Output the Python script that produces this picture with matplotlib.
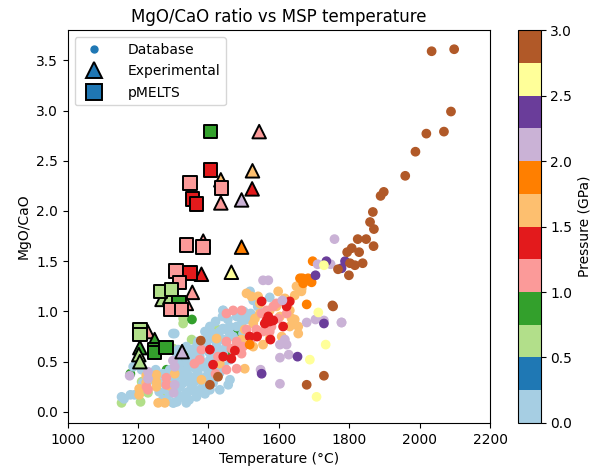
import numpy as np
import matplotlib
matplotlib.use('Agg')
import matplotlib.pyplot as plt
from matplotlib.lines import Line2D

# database points, grouped by pressure (GPa): (temperature C, MgO/CaO)
db_p01 = [(1153, 0.15), (1178, 0.17), (1160, 0.13)]
db_p06 = [(1153, 0.09), (1207, 0.10), (1228, 0.19), (1276, 0.16), (1352, 0.72),
          (1328, 0.93), (1328, 0.88), (1427, 0.82), (1300, 0.63), (1210, 0.30)]
db_p09 = [(1178, 0.38), (1281, 0.42), (1353, 0.92), (1480, 0.80), (1347, 0.55),
          (1328, 0.48), (1328, 0.58), (1460, 0.60)]
db_p00 = [(1518, 1.20), (1574, 1.14), (1527, 1.11), (1442, 1.01), (1494, 0.88),
          (1480, 0.85), (1508, 0.92), (1451, 0.82), (1432, 0.80), (1413, 0.77),
          (1404, 0.73), (1394, 0.68), (1385, 0.65), (1371, 0.62), (1361, 0.57),
          (1347, 0.52), (1337, 0.48), (1323, 0.42), (1314, 0.37), (1304, 0.32),
          (1299, 0.27), (1299, 0.09), (1318, 0.15), (1342, 0.20), (1366, 0.17),
          (1385, 0.25), (1413, 0.29), (1432, 0.39), (1461, 0.52), (1470, 0.62),
          (1442, 0.58), (1423, 0.52), (1404, 0.52), (1385, 0.45), (1366, 0.42),
          (1347, 0.35), (1328, 0.29), (1394, 0.35), (1413, 0.42), (1456, 0.27),
          (1461, 0.32), (1432, 0.22), (1356, 0.22), (1375, 0.32), (1337, 0.65),
          (1314, 0.62), (1299, 0.78), (1423, 0.68), (1442, 0.72), (1470, 0.75),
          (1498, 0.78), (1404, 0.85), (1233, 0.38), (1252, 0.35), (1271, 0.38),
          (1290, 0.42), (1318, 0.48), (1337, 0.52), (1356, 0.58), (1366, 0.65),
          (1394, 0.72), (1413, 0.78), (1441, 0.83), (1460, 0.85), (1299, 0.32),
          (1328, 0.29), (1356, 0.22), (1366, 0.15), (1318, 0.15), (1280, 0.22),
          (1261, 0.29), (1214, 0.29), (1190, 0.17), (1399, 0.38), (1422, 0.45),
          (1347, 0.35), (1385, 0.29), (1337, 0.09), (1404, 0.22), (1186, 0.45),
          (1210, 0.42), (1304, 0.78), (1441, 1.01), (1301, 0.09), (1323, 0.15),
          (1280, 0.12), (1345, 0.12), (1390, 0.18), (1420, 0.60), (1480, 0.95),
          (1500, 1.00), (1455, 0.92), (1375, 0.55), (1356, 0.45), (1310, 0.55),
          (1240, 0.32), (1260, 0.20), (1290, 0.18), (1310, 0.22), (1330, 0.35),
          (1350, 0.28), (1370, 0.38), (1390, 0.45), (1410, 0.55), (1430, 0.62),
          (1450, 0.65), (1400, 0.60), (1380, 0.50), (1360, 0.30), (1340, 0.42),
          (1320, 0.25), (1300, 0.40), (1280, 0.30), (1270, 0.12), (1350, 0.62),
          (1420, 0.90), (1440, 0.95), (1460, 0.78), (1480, 0.68), (1500, 0.92),
          (1520, 0.98), (1540, 1.05), (1390, 0.80), (1370, 0.70), (1250, 0.42),
          (1335, 0.18), (1375, 0.22), (1415, 0.35), (1445, 0.45), (1310, 0.10)]
db_p11 = [(1593, 1.08), (1612, 1.10), (1584, 1.05), (1565, 1.01), (1551, 0.98),
          (1598, 0.93), (1579, 0.85), (1555, 0.80), (1536, 0.82), (1508, 0.82),
          (1522, 0.73), (1480, 0.70), (1465, 0.63), (1451, 0.70), (1427, 0.55),
          (1480, 0.43), (1451, 0.42), (1498, 0.65), (1622, 0.98), (1494, 0.58),
          (1380, 0.62), (1375, 0.52), (1451, 0.98), (1470, 1.01), (1494, 1.01),
          (1536, 0.77), (1574, 0.80), (1280, 0.34), (1280, 0.27), (1228, 0.22),
          (1224, 0.25), (1420, 0.38), (1360, 0.48)]
db_p14 = [(1565, 0.91), (1574, 0.90), (1584, 0.91), (1560, 0.88), (1551, 1.10),
          (1622, 1.05), (1631, 1.10), (1517, 0.75), (1538, 0.75), (1413, 0.47),
          (1442, 0.55), (1475, 0.61), (1576, 0.72), (1612, 0.85), (1465, 0.53),
          (1404, 0.62), (1570, 0.95)]
db_p16 = [(1508, 1.18), (1522, 1.15), (1541, 1.15), (1546, 1.08), (1574, 1.01),
          (1598, 1.20), (1617, 1.13), (1650, 1.25), (1664, 1.20), (1645, 1.16),
          (1631, 1.01), (1603, 0.95), (1636, 0.93), (1645, 0.92), (1655, 0.85),
          (1655, 0.78), (1608, 0.75), (1574, 0.73), (1527, 0.88), (1503, 0.82),
          (1494, 0.72), (1527, 0.65), (1503, 0.43), (1423, 0.73), (1432, 0.48),
          (1380, 0.32), (1674, 1.30), (1593, 1.05), (1546, 0.98), (1532, 0.93),
          (1631, 0.85), (1555, 0.67), (1223, 0.36), (1223, 0.29), (1223, 0.24),
          (1252, 0.37), (1252, 0.30), (1252, 0.25), (1257, 0.09), (1276, 0.09),
          (1304, 0.38), (1290, 0.26), (1203, 0.23), (1203, 0.17), (1665, 1.23)]
db_p19 = [(1696, 1.50), (1667, 1.33), (1683, 1.33), (1693, 1.29), (1679, 1.07),
          (1660, 1.33), (1669, 1.28), (1517, 0.67)]
db_p21 = [(1758, 1.72), (1747, 1.47), (1778, 0.89), (1555, 1.31), (1570, 1.31),
          (1679, 0.89), (1704, 0.92), (1728, 0.91), (1778, 0.89), (1603, 0.54),
          (1628, 0.57), (1603, 0.28), (1548, 0.42), (1610, 1.11), (1617, 0.72),
          (1622, 0.67), (1603, 0.67), (1176, 0.36), (1228, 0.40), (1228, 0.33),
          (1301, 0.19), (1304, 0.27), (1304, 0.45), (1299, 0.51), (1710, 1.47)]
db_p24 = [(1788, 1.50), (1778, 1.43), (1704, 1.36), (1728, 0.88), (1653, 0.55),
          (1551, 0.38), (1735, 1.50)]
db_p26 = [(1728, 1.46), (1712, 0.99), (1733, 0.67), (1688, 0.52), (1707, 0.15)]
db_p29 = [(2034, 3.59), (2098, 3.61), (2089, 2.99), (2019, 2.77), (2069, 2.79),
          (1988, 2.59), (1959, 2.35), (1889, 2.15), (1898, 2.19), (1867, 1.99),
          (1859, 1.89), (1870, 1.82), (1824, 1.72), (1848, 1.72), (1869, 1.65),
          (1807, 1.63), (1794, 1.59), (1828, 1.59), (1802, 1.48), (1816, 1.46),
          (1838, 1.48), (1768, 1.42), (1799, 1.36), (1754, 1.05), (1752, 1.06),
          (1728, 0.36), (1679, 0.27), (1378, 0.71), (1404, 0.27), (1427, 0.35)]

db_groups = [(0.6, db_p06), (0.9, db_p09), (0.1, db_p01), (0.1, db_p00),
             (1.6, db_p16), (1.1, db_p11), (1.4, db_p14), (1.9, db_p19),
             (2.1, db_p21), (2.4, db_p24), (2.6, db_p26), (2.9, db_p29)]

# experimental runs: temperature, ratio, pressure
exp_temp = [1544, 1525, 1435, 1524, 1435, 1494, 1385, 1494, 1380, 1465,
            1354, 1268, 1290, 1337, 1227, 1205, 1202, 1205, 1247, 1325]
exp_ratio = [2.79, 2.40, 2.31, 2.22, 2.08, 2.11, 1.70, 1.64, 1.37, 1.39,
             1.19, 1.12, 1.14, 1.08, 0.80, 0.64, 0.57, 0.50, 0.72, 0.60]
exp_press = [1.0, 1.5, 1.5, 1.3, 1.0, 2.0, 1.0, 1.8, 1.3, 2.5,
             1.0, 0.5, 0.5, 1.0, 1.0, 0.9, 0.5, 0.5, 0.9, 2.0]

# pMELTS calculations
pm_temp = [1406, 1406, 1347, 1437, 1355, 1366, 1337, 1385, 1307, 1347,
           1317, 1264, 1295, 1316, 1293, 1323, 1205, 1205, 1247, 1247, 1279]
pm_ratio = [2.79, 2.41, 2.28, 2.23, 2.12, 2.07, 1.66, 1.64, 1.40, 1.38,
            1.29, 1.20, 1.22, 1.09, 1.02, 1.02, 0.82, 0.77, 0.62, 0.59, 0.64]
pm_press = [0.9, 1.4, 1.1, 1.1, 1.4, 1.4, 1.1, 1.1, 1.1, 1.4,
            1.1, 0.6, 0.6, 0.9, 1.1, 1.1, 0.6, 0.6, 0.9, 0.9, 0.9]

db_t, db_r, db_p = [], [], []
for p, pts in db_groups:
    for t, r in pts:
        db_t.append(t)
        db_r.append(r)
        db_p.append(p)

fig = plt.figure(figsize=(5.94, 4.71), dpi=100)
ax = fig.add_axes([0.114, 0.102, 0.711, 0.834])
cax = fig.add_axes([0.872, 0.102, 0.038, 0.834])

cmap = plt.get_cmap('Paired')
sc = ax.scatter(db_t, db_r, c=db_p, cmap=cmap, vmin=0, vmax=3, s=36, zorder=2)
ax.scatter(exp_temp, exp_ratio, c=exp_press, cmap=cmap, vmin=0, vmax=3, marker='^',
           s=95, edgecolors='k', linewidths=1.4, zorder=3)
ax.scatter(pm_temp, pm_ratio, c=pm_press, cmap=cmap, vmin=0, vmax=3, marker='s',
           s=95, edgecolors='k', linewidths=1.4, zorder=4)

ax.set_xlim(1000, 2200)
ax.set_ylim(-0.11, 3.8)
ax.set_title('MgO/CaO ratio vs MSP temperature')
ax.set_xlabel('Temperature (°C)')
ax.set_ylabel('MgO/CaO')

handles = [
    Line2D([], [], marker='o', ls='', color='C0', markersize=5),
    Line2D([], [], marker='^', ls='', markerfacecolor='C0', markeredgecolor='k',
           markeredgewidth=1.4, markersize=11),
    Line2D([], [], marker='s', ls='', markerfacecolor='C0', markeredgecolor='k',
           markeredgewidth=1.4, markersize=11),
]
ax.legend(handles, ['Database', 'Experimental', 'pMELTS'], loc='upper left',
          handletextpad=1.4, labelspacing=0.55)

cb = fig.colorbar(sc, cax=cax)
cb.set_label('Pressure (GPa)')
cb.set_ticks(np.arange(0, 3.01, 0.5))

plt.savefig('out.png')
